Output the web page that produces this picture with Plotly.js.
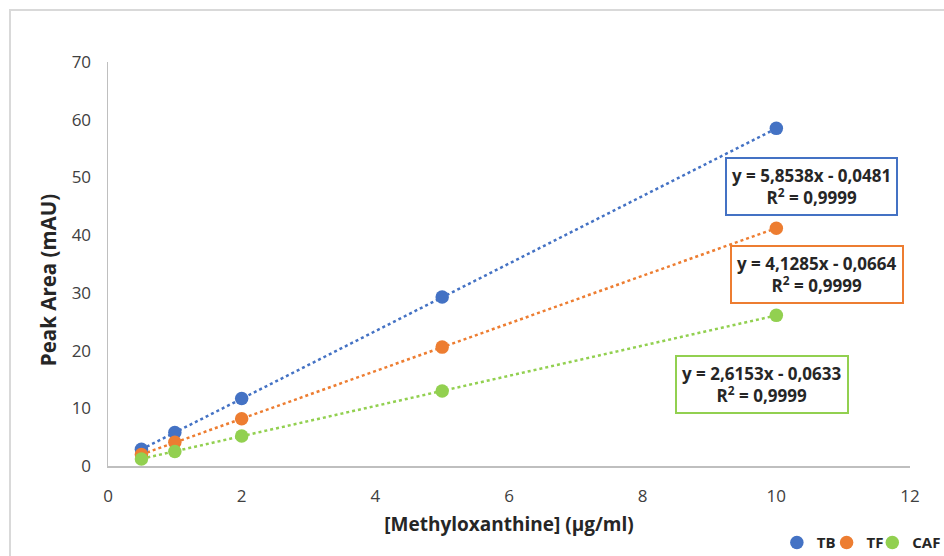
<!DOCTYPE html>
<html><head><meta charset="utf-8">
<script src="https://cdn.plot.ly/plotly-3.0.1.min.js"></script>
<style>html,body{margin:0;padding:0;background:#fff}#chart{width:944px;height:556px}</style>
</head><body><div id="chart"></div>
<script>
// Data
const concentrations = [0.5, 1, 2, 5, 10];
const tbArea = [2.9, 5.8, 11.7, 29.3, 58.5];
const tfArea = [2.0, 4.1, 8.2, 20.6, 41.2];
const cafArea = [1.2, 2.5, 5.2, 13.0, 26.1];
const seriesNames = ['TB', 'TF', 'CAF'];
const slopes = [5.8538, 4.1285, 2.6153];
const intercepts = [-0.0481, -0.0664, -0.0633];
const r2Values = ['0,9999', '0,9999', '0,9999'];
const xTicks = [0, 2, 4, 6, 8, 10, 12];
const yTicks = [0, 10, 20, 30, 40, 50, 60, 70];
const xTitle = '[Methyloxanthine] (μg/ml)';
const yTitle = 'Peak Area (mAU)';

const colors = ['#4472C4', '#ED7D31', '#92D050'];
const allY = [tbArea, tfArea, cafArea];
const font = 'Open Sans, Liberation Sans, sans-serif';
const legendIds = ['legend', 'legend2', 'legend3'];
const legendX = [0.834, 0.896, 0.953];

const traces = [];
// trendlines
for (let i = 0; i < 3; i++) {
  const xs = [concentrations[0], concentrations[concentrations.length - 1]];
  traces.push({
    x: xs, y: xs.map(v => slopes[i] * v + intercepts[i]),
    mode: 'lines', showlegend: false, hoverinfo: 'skip',
    line: {color: colors[i], width: 2.5, dash: 'dot'}
  });
}
for (let i = 0; i < 3; i++) {
  traces.push({
    x: concentrations, y: allY[i], name: '<b>' + seriesNames[i] + '</b>',
    mode: 'markers', marker: {color: colors[i], size: 13.5}, legend: legendIds[i]
  });
}

function fmt(n) { return Math.abs(n).toFixed(4).replace('.', ','); }
const annPos = [[10.52, 48.5], [10.61, 33.1], [9.79, 14.2]];
const annotations = [];
for (let i = 0; i < 3; i++) {
  annotations.push({
    x: annPos[i][0], y: annPos[i][1], xref: 'x', yref: 'y', showarrow: false,
    text: '<b>y = ' + fmt(slopes[i]) + 'x ' + (intercepts[i] < 0 ? '- ' : '+ ') + fmt(intercepts[i]) +
          '<br>R<sup>2</sup> = ' + r2Values[i] + '</b>',
    font: {family: font, size: 17, color: '#262626'},
    bordercolor: colors[i], borderwidth: 2, borderpad: 5, bgcolor: '#fff', align: 'center'
  });
}
// y-axis title (placed as in the reference, slightly below the plot's middle)
annotations.push({
  x: -0.0748, y: 0.46, xref: 'paper', yref: 'paper', showarrow: false, textangle: -90,
  xanchor: 'center', yanchor: 'middle',
  text: '<b>' + yTitle + '</b>', font: {family: font, size: 20.5, color: '#262626'}
});

const layout = {
  width: 944, height: 556,
  margin: {l: 108, r: 34, t: 62, b: 90, autoexpand: false},
  paper_bgcolor: '#fff', plot_bgcolor: '#fff',
  font: {family: font, color: '#404040', size: 16},
  xaxis: {
    range: [0, 12], tickvals: xTicks, showgrid: false, zeroline: false, automargin: false,
    showline: true, linecolor: '#BFBFBF', linewidth: 1.5, ticks: '', ticklen: 0,
    ticklabelstandoff: 14,
    tickfont: {size: 17, color: '#404040'},
    title: {text: '<b>' + xTitle + '</b>', font: {size: 19, color: '#262626'}, standoff: 12}
  },
  yaxis: {
    range: [0, 70], tickvals: yTicks, showgrid: false, zeroline: false, automargin: false,
    showline: true, linecolor: '#BFBFBF', linewidth: 1.5, ticks: '',
    ticklabelstandoff: 12,
    tickfont: {size: 17, color: '#404040'}
  },
  annotations: annotations,
  shapes: [{
    type: 'rect', xref: 'paper', yref: 'paper',
    x0: -0.1222, x1: 1.1, y0: -0.3, y1: 1.1287,
    line: {color: '#D9D9D9', width: 2}, layer: 'below'
  }],
  showlegend: true
};
for (let i = 0; i < 3; i++) {
  layout[legendIds[i]] = {
    orientation: 'h', x: legendX[i], xanchor: 'left', y: -0.19, yanchor: 'middle',
    font: {size: 15, color: '#262626', family: font}, itemwidth: 30, bgcolor: 'rgba(0,0,0,0)'
  };
}

Plotly.newPlot('chart', traces, layout, {displayModeBar: false, staticPlot: true});
</script></body></html>
